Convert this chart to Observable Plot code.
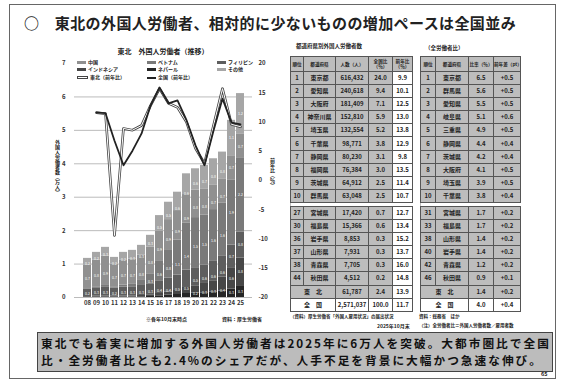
<!DOCTYPE html>
<html><head><meta charset="utf-8">
<script src="https://cdn.jsdelivr.net/npm/d3@7"></script>
<script src="https://cdn.jsdelivr.net/npm/@observablehq/plot@0.6"></script>
<style>
body{margin:0;width:566px;height:383px;position:relative;background:#fff;font-family:"Noto Sans CJK JP","Noto Sans",sans-serif;overflow:hidden;color:#222}
.abs{position:absolute}
.frame{left:9px;top:4px;width:545px;height:373px;border:1.5px solid #666}
.title{left:24px;top:12px;font-size:15px;font-weight:bold;white-space:nowrap;letter-spacing:0.4px}
.legend{left:74px;top:46px;width:178px;height:37px;background:#fff;font-size:5px;font-weight:bold}
.legend .ttl{position:absolute;left:0;width:100%;top:0;text-align:center;font-size:7px}
.legend .it{position:absolute;white-space:nowrap;line-height:6px}
.legend .sw{display:inline-block;width:9px;height:3px;margin-right:2px;vertical-align:middle}
.tbl{position:absolute;border-collapse:collapse;table-layout:fixed;background:#bdbdbd;font-size:6px;font-weight:bold}
.tbl td{border:1px solid #555;padding:0;text-align:center;white-space:nowrap;overflow:hidden;line-height:10px;height:12.1px}
.tbl td.h{font-size:4.6px;line-height:5px;height:14px;white-space:normal}
.tbl td.w{background:#fff}
.tbl tr.gap td{height:3px;line-height:3px;border-left:none;border-right:none;background:#fff}
.note{font-size:5px;font-weight:bold;white-space:nowrap}
.fbox{left:37px;top:332px;width:516px;height:40px;background:#bcbcbc;border:1.5px solid #444;box-sizing:border-box}
.fl{left:41px;font-size:11.7px;letter-spacing:2px;font-weight:bold;line-height:17px;white-space:nowrap;color:#111}
.vlab{writing-mode:vertical-rl;font-size:5px;font-weight:bold;white-space:nowrap}
</style></head><body>
<div class="abs frame"></div>
<div class="abs title">○　東北の外国人労働者、相対的に少ないものの増加ペースは全国並み</div>
<div id="chart" class="abs" style="left:40px;top:45px"></div>
<div id="legend" class="abs legend"><div class="ttl">東北　外国人労働者（推移）</div></div>
<div class="abs vlab" style="left:54px;top:140px">外国人労働者数（万人）</div>
<div class="abs vlab" style="left:269px;top:158px">前年比（％）</div>
<div class="abs note" style="left:146px;top:315px">※各年10月末時点</div>
<div class="abs note" style="left:222px;top:315px">資料：厚生労働省</div>
<div class="abs note" style="left:296px;top:42px;font-size:5.5px">都道府県別外国人労働者数</div>
<div class="abs note" style="left:425px;top:44px;font-size:5.5px">（全労働者比）</div>
<div id="t1"></div><div id="t2"></div>
<div class="abs note" style="left:290px;top:313px;font-size:4.5px">（資料）厚生労働省「外国人雇用状況」の届出状況</div>
<div class="abs note" style="left:377px;top:322px">2025年10月末</div>
<div class="abs note" style="left:419px;top:313px;font-size:4.5px">資料：総務省　ほか</div>
<div class="abs note" style="left:419px;top:322px;font-size:4.5px">（注）全労働者比＝外国人労働者数／雇用者数</div>
<div class="abs fbox"></div>
<div class="abs fl" style="top:334px">東北でも着実に増加する外国人労働者は2025年に6万人を突破。大都市圏比で全国</div>
<div class="abs fl" style="top:351px">比・全労働者比とも2.4%のシェアだが、人手不足を背景に大幅かつ急速な伸び。</div>
<div class="abs note" style="left:541px;top:370px;font-size:5.5px">65</div>
<script>
// ---- chart data (万人) ----
const years = ["2008","2009","2010","2011","2012","2013","2014","2015","2016","2017","2018","2019","2020","2021","2022","2023","2024","2025"];
const categories = ["ネパール","インドネシア","フィリピン","ベトナム","中国","その他"];
const colors = ["#262626","#474747","#5e5e5e","#7a7a7a","#909090","#a6a6a6"];
const nepal       = [0.01,0.01,0.01,0.01,0.01,0.01,0.02,0.03,0.05,0.07,0.09,0.12,0.13,0.14,0.16,0.19,0.25,0.33];
const indonesia   = [0.02,0.03,0.03,0.03,0.03,0.03,0.04,0.05,0.07,0.09,0.12,0.18,0.22,0.28,0.34,0.42,0.62,0.85];
const philippines = [0.22,0.25,0.28,0.24,0.27,0.28,0.30,0.33,0.38,0.42,0.46,0.52,0.54,0.55,0.58,0.62,0.70,0.78];
const vietnam     = [0.02,0.03,0.04,0.04,0.06,0.09,0.15,0.30,0.60,0.85,1.05,1.40,1.50,1.50,1.55,1.60,1.95,2.20];
const china       = [0.70,0.80,0.88,0.68,0.74,0.74,0.76,0.80,0.88,0.90,0.88,0.86,0.82,0.78,0.74,0.72,0.72,0.72];
const others      = [0.20,0.23,0.26,0.20,0.24,0.26,0.29,0.35,0.47,0.52,0.55,0.62,0.64,0.70,0.78,0.80,1.06,1.22];
// growth rates (%), 2009-2025
const growthYears = years.slice(1);
const tohokuGrowth   = [11.6,11.4,-9.4,8.9,8.6,9.4,12.8,15.7,13.2,12.5,10.0,5.5,2.9,9.4,15.7,9.6,9.2];
const nationalGrowth = [11.6,11.5,6.8,2.6,5.1,8.0,12.8,15.9,13.2,13.7,10.3,6.0,2.6,8.5,14.0,9.9,9.6];
const leftTicks = [0,1,2,3,4,5,6,7];
const rightTicks = [20,15,10,5,0,-5,-10,-15,-20];

// ---- table data ----
const t1Rank  = ["1","2","3","4","5","6","7","8","9","10","27","30","36","37","38","44","",""];
const t1Pref  = ["東京都","愛知県","大阪府","神奈川県","埼玉県","千葉県","静岡県","福岡県","茨城県","群馬県","宮城県","福島県","岩手県","山形県","青森県","秋田県","東　北","全　国"];
const t1Count = ["616,432","240,618","181,409","152,810","132,554","98,771","80,230","76,384","64,912","63,048","17,420","15,366","8,853","7,931","7,705","4,512","61,787","2,571,037"];
const t1Share = ["24.0","9.4","7.1","5.9","5.2","3.8","3.1","3.0","2.5","2.5","0.7","0.6","0.3","0.3","0.3","0.2","2.4","100.0"];
const t1Yoy   = ["9.9","10.1","12.5","13.0","13.8","12.9","9.8","13.5","11.4","10.7","12.7","13.4","15.2","13.7","16.0","14.8","13.9","11.7"];
const t2Rank  = ["1","2","3","4","5","6","7","8","9","10","31","33","38","40","42","46","",""];
const t2Pref  = ["東京都","群馬県","愛知県","岐阜県","三重県","静岡県","茨城県","大阪府","埼玉県","千葉県","宮城県","福島県","山形県","岩手県","青森県","秋田県","東　北","全　国"];
const t2Ratio = ["6.5","5.6","5.5","5.1","4.9","4.4","4.2","4.1","3.9","3.8","1.7","1.7","1.4","1.4","1.2","0.9","1.4","4.0"];
const t2Diff  = ["+0.5","+0.5","+0.5","+0.6","+0.5","+0.4","+0.4","+0.5","+0.5","+0.4","+0.2","+0.2","+0.2","+0.2","+0.2","+0.1","+0.2","+0.4"];

// ---- chart ----
const series = [nepal, indonesia, philippines, vietnam, china, others];
const bars = [];
years.forEach((yr, i) => categories.forEach((c, j) => bars.push({year: yr, cat: c, value: series[j][i]})));
const rMin = -20, rMax = 20;
const toLeft = v => (v - rMin) / (rMax - rMin) * 7;
const tohoku = growthYears.map((yr, i) => ({year: yr, v: tohokuGrowth[i]}));
const national = growthYears.map((yr, i) => ({year: yr, v: nationalGrowth[i]}));

const chart = Plot.plot({
  width: 250, height: 285,
  marginLeft: 34, marginRight: 38, marginTop: 18, marginBottom: 33,
  style: {fontFamily: "'Noto Sans CJK JP', sans-serif", fontSize: "6px", color: "#333", background: "transparent", fontWeight: "bold"},
  x: {type: "band", domain: years, padding: 0.12, paddingOuter: 0.04, label: null},
  y: {domain: [0, 7], label: null},
  color: {domain: categories, range: colors},
  marks: [
    Plot.gridY(leftTicks, {stroke: "#aaa", strokeOpacity: 1, strokeWidth: 0.8}),
    Plot.barY(bars, {x: "year", y: "value", fill: "cat", order: categories}),
    Plot.text(bars, Plot.stackY({x: "year", y: "value", z: "cat", order: categories, filter: d => d.value >= 0.2, text: d => d.value.toFixed(1), fill: "#fff", fontSize: 3.5, fontWeight: "normal"})),
    Plot.axisY(leftTicks, {anchor: "left", tickSize: 0, tickPadding: 9, label: null}),
    Plot.axisY(rightTicks.map(toLeft), {anchor: "right", tickSize: 0, tickPadding: 6, label: null, tickFormat: (d, i) => rightTicks[i]}),
    Plot.axisX({tickSize: 0, tickPadding: 3, label: null, tickFormat: d => d.slice(2)}),
    Plot.lineY(tohoku, {x: "year", y: d => toLeft(d.v), stroke: "#444", strokeWidth: 2.6}),
    Plot.lineY(tohoku, {x: "year", y: d => toLeft(d.v), stroke: "#fff", strokeWidth: 1}),
    Plot.lineY(national, {x: "year", y: d => toLeft(d.v), stroke: "#222", strokeWidth: 1.8})
  ]
});
document.getElementById("chart").appendChild(chart);

// ---- legend ----
const legendItems = [
  {t: "中国", c: colors[4], x: 3, y: 13}, {t: "ベトナム", c: colors[3], x: 73, y: 13}, {t: "フィリピン", c: colors[2], x: 143, y: 13},
  {t: "インドネシア", c: colors[1], x: 3, y: 20}, {t: "ネパール", c: colors[0], x: 73, y: 20}, {t: "その他", c: colors[5], x: 143, y: 20},
  {t: "東北（前年比）", c: "line2", x: 3, y: 28}, {t: "全国（前年比）", c: "line1", x: 73, y: 28}
];
const lg = document.getElementById("legend");
legendItems.forEach(it => {
  const d = document.createElement("div");
  d.className = "it";
  d.style.left = it.x + "px"; d.style.top = it.y + "px";
  const sw = document.createElement("span");
  sw.className = "sw";
  if (it.c === "line1") { sw.style.height = "2px"; sw.style.background = "#222"; }
  else if (it.c === "line2") { sw.style.height = "1px"; sw.style.background = "#fff"; sw.style.border = "1px solid #444"; }
  else sw.style.background = it.c;
  d.appendChild(sw);
  d.appendChild(document.createTextNode(it.t));
  lg.appendChild(d);
});

// ---- tables ----
function buildTable(id, left, widths, header, cols, whiteCols) {
  const t = document.createElement("table");
  t.className = "tbl";
  t.style.left = left + "px"; t.style.top = "56px";
  t.style.width = widths.reduce((a, b) => a + b, 0) + "px";
  const cg = document.createElement("colgroup");
  widths.forEach(w => { const c = document.createElement("col"); c.style.width = w + "px"; cg.appendChild(c); });
  t.appendChild(cg);
  const hr = document.createElement("tr");
  header.forEach(h => { const td = document.createElement("td"); td.className = "h"; td.innerHTML = h; hr.appendChild(td); });
  t.appendChild(hr);
  const n = cols[0].length;
  for (let r = 0; r < n; r++) {
    if (r === 10) {
      const g = document.createElement("tr"); g.className = "gap";
      const td = document.createElement("td"); td.colSpan = widths.length; g.appendChild(td); t.appendChild(g);
    }
    const tr = document.createElement("tr");
    if (r >= 16) {
      const td = document.createElement("td"); td.colSpan = 2; td.textContent = cols[1][r];
      if (r === 17) td.className = "w";
      tr.appendChild(td);
      for (let c = 2; c < cols.length; c++) { const d = document.createElement("td"); d.textContent = cols[c][r]; if (whiteCols.includes(c) || r === 17) d.className = "w"; tr.appendChild(d); }
    } else {
      cols.forEach((col, c) => { const d = document.createElement("td"); d.textContent = col[r]; if (whiteCols.includes(c)) d.className = "w"; tr.appendChild(d); });
    }
    t.appendChild(tr);
  }
  document.getElementById(id).appendChild(t);
}
buildTable("t1", 290, [13, 32, 33, 24, 20], ["順位", "都道府県", "人数（人）", "全国比（％）", "前年比（％）"], [t1Rank, t1Pref, t1Count, t1Share, t1Yoy], [4]);
buildTable("t2", 420, [15, 33, 25, 27], ["順位", "都道府県", "比率（％）", "前年差（pt）"], [t2Rank, t2Pref, t2Ratio, t2Diff], []);
</script>
</body></html>
